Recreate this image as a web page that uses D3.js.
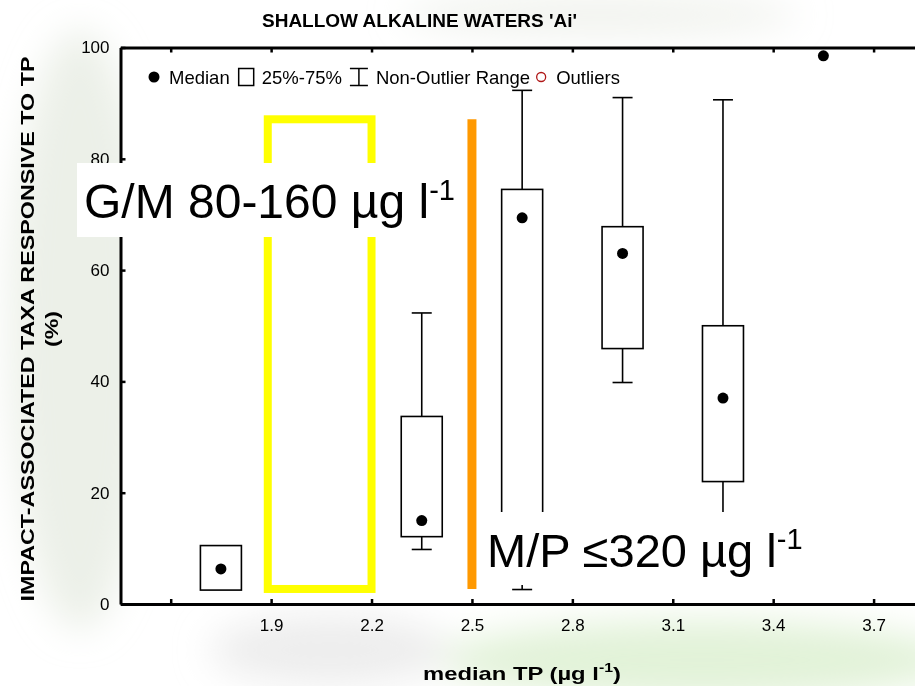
<!DOCTYPE html>
<html><head><meta charset="utf-8">
<script src="https://cdn.jsdelivr.net/npm/d3@7"></script>
<style>
body{margin:0;background:#fff;}
text{font-family:Arial,"Liberation Sans",sans-serif;fill:#000;}
</style>
</head><body>
<svg id="chart" width="915" height="686"></svg>
<script>
// ---- data ----
const categories = [1.75, 2.35, 2.65, 2.95, 3.25, 3.55];   // median TP (log, µg l-1)
const medians    = [6.3, 15.0, 69.4, 63.0, 37.0, 98.5];
const q1Values   = [2.5, 12.1, 8.0, 45.9, 22.0, 98.5];
const q3Values   = [10.5, 33.7, 74.5, 67.8, 50.0, 98.5];
const minValues  = [2.5, 9.8, 2.6, 39.8, 10.0, 98.5];
const maxValues  = [10.5, 52.3, 92.3, 91.0, 90.6, 98.5];
const xTickValues = [1.6, 1.9, 2.2, 2.5, 2.8, 3.1, 3.4, 3.7];
const xTickLabels = ["", "1.9", "2.2", "2.5", "2.8", "3.1", "3.4", "3.7"];
const yTickValues = [0, 20, 40, 60, 80, 100];
const gmBoundary  = [1.89, 2.2];   // G/M boundary band (x)
const mpBoundary  = [2.5];         // M/P boundary (x)
const boundaryExtent = [2.7, 87.1]; // y extent of boundary marks
const legendItems = ["Median", "25%-75%", "Non-Outlier Range", "Outliers"];

const svg = d3.select("#chart");
const W = 915, H = 686;

// faint watermark-like background
const defs = svg.append("defs");
const f = defs.append("filter").attr("id","blur").attr("x","-50%").attr("y","-50%").attr("width","200%").attr("height","200%");
f.append("feGaussianBlur").attr("stdDeviation", 18);
const bg = svg.append("g").attr("filter","url(#blur)");
bg.append("ellipse").attr("cx",80).attr("cy",330).attr("rx",70).attr("ry",300).attr("fill","#dfe6d8").attr("opacity",0.6);
bg.append("ellipse").attr("cx",700).attr("cy",660).attr("rx",260).attr("ry",40).attr("fill","#d6ecc8").attr("opacity",0.7);
bg.append("ellipse").attr("cx",330).attr("cy",650).attr("rx",120).attr("ry",35).attr("fill","#e6e6e6").attr("opacity",0.7);
bg.append("ellipse").attr("cx",600).attr("cy",15).attr("rx",200).attr("ry",18).attr("fill","#e4e8e0").attr("opacity",0.6);

// scales
const x = d3.scaleLinear().domain([1.45, 3.85]).range([120.5, 923.8]);
const y = d3.scaleLinear().domain([0, 100]).range([604, 47.5]);

// plot area
svg.append("rect").attr("x", x(1.45)).attr("y", y(100)).attr("width", W - x(1.45)).attr("height", y(0) - y(100)).attr("fill", "#fff");

// axes
const xAxis = d3.axisBottom(x).tickValues(xTickValues)
  .tickFormat((d, i) => xTickLabels[i]).tickSizeInner(-5).tickSizeOuter(0).tickPadding(15);
const gx = svg.append("g").attr("transform", `translate(0,${y(0)})`).call(xAxis);
gx.select(".domain").attr("stroke-width", 3);
gx.selectAll(".tick line").attr("stroke-width", 2.5);
gx.selectAll("text").attr("font-size", 17).attr("font-family", "Arial, 'Liberation Sans', sans-serif");

const xTop = d3.axisTop(x).tickValues(xTickValues).tickFormat("").tickSizeInner(-5).tickSizeOuter(0);
const gxt = svg.append("g").attr("transform", `translate(0,${y(100)})`).call(xTop);
gxt.select(".domain").attr("stroke-width", 3);
gxt.selectAll(".tick line").attr("stroke-width", 2.5);

const yAxis = d3.axisLeft(y).tickValues(yTickValues).tickSizeInner(-5).tickSizeOuter(0).tickPadding(11);
const gy = svg.append("g").attr("transform", `translate(${x(1.45)},0)`).call(yAxis);
gy.select(".domain").attr("stroke-width", 3);
gy.selectAll(".tick line").attr("stroke-width", 2.5);
gy.selectAll("text").attr("font-size", 17).attr("font-family", "Arial, 'Liberation Sans', sans-serif");

// boundary marks
svg.append("rect")
  .attr("x", x(gmBoundary[0])).attr("y", y(boundaryExtent[1]))
  .attr("width", x(gmBoundary[1]) - x(gmBoundary[0]))
  .attr("height", y(boundaryExtent[0]) - y(boundaryExtent[1]))
  .attr("fill", "none").attr("stroke", "#ffff00").attr("stroke-width", 8);
svg.selectAll(".mp").data(mpBoundary).join("line").attr("class","mp")
  .attr("x1", d => x(d)).attr("x2", d => x(d))
  .attr("y1", y(boundaryExtent[1])).attr("y2", y(boundaryExtent[0]))
  .attr("stroke", "#ff9900").attr("stroke-width", 9);

// box plots
const boxW = 41, capW = 20;
const data = categories.map((c, i) => ({c, med: medians[i], q1: q1Values[i], q3: q3Values[i], lo: minValues[i], hi: maxValues[i]}));
const g = svg.append("g").attr("stroke", "#000").attr("stroke-width", 1.6);
data.forEach(d => {
  const cx = x(d.c);
  if (d.q3 > d.q1) {
    if (d.hi > d.q3) {
      g.append("line").attr("x1", cx).attr("x2", cx).attr("y1", y(d.hi)).attr("y2", y(d.q3));
      g.append("line").attr("x1", cx - capW/2).attr("x2", cx + capW/2).attr("y1", y(d.hi)).attr("y2", y(d.hi));
    }
    if (d.lo < d.q1) {
      g.append("line").attr("x1", cx).attr("x2", cx).attr("y1", y(d.q1)).attr("y2", y(d.lo));
      g.append("line").attr("x1", cx - capW/2).attr("x2", cx + capW/2).attr("y1", y(d.lo)).attr("y2", y(d.lo));
    }
    g.append("rect").attr("x", cx - boxW/2).attr("y", y(d.q3)).attr("width", boxW).attr("height", y(d.q1) - y(d.q3)).attr("fill", "none");
  }
});
svg.selectAll(".med").data(data).join("circle").attr("class","med")
  .attr("cx", d => x(d.c)).attr("cy", d => y(d.med)).attr("r", 5.5).attr("fill", "#000");

// legend
const lg = svg.append("g").attr("font-size", 18.5);
let lx = 154; const ly = 77;
lg.append("circle").attr("cx", lx).attr("cy", ly).attr("r", 5.5).attr("fill", "#000");
lx += 15;
let t = lg.append("text").attr("x", lx).attr("y", ly + 6.5).text(legendItems[0]);
lx += t.node().getComputedTextLength() + 9;
lg.append("rect").attr("x", lx).attr("y", ly - 8.5).attr("width", 15).attr("height", 17).attr("fill", "none").attr("stroke", "#000").attr("stroke-width", 1.5);
lx += 15 + 8;
t = lg.append("text").attr("x", lx).attr("y", ly + 6.5).text(legendItems[1]);
lx += t.node().getComputedTextLength() + 8;
const ib = lg.append("g").attr("stroke", "#000").attr("stroke-width", 1.5);
ib.append("line").attr("x1", lx).attr("x2", lx + 18).attr("y1", ly - 8.5).attr("y2", ly - 8.5);
ib.append("line").attr("x1", lx).attr("x2", lx + 18).attr("y1", ly + 8.5).attr("y2", ly + 8.5);
ib.append("line").attr("x1", lx + 9).attr("x2", lx + 9).attr("y1", ly - 8.5).attr("y2", ly + 8.5);
lx += 18 + 8;
t = lg.append("text").attr("x", lx).attr("y", ly + 6.5).text(legendItems[2]);
lx += t.node().getComputedTextLength() + 11;
lg.append("circle").attr("cx", lx).attr("cy", ly).attr("r", 4.5).attr("fill", "none").attr("stroke", "#b01818").attr("stroke-width", 1.3);
lx += 15;
lg.append("text").attr("x", lx).attr("y", ly + 6.5).text(legendItems[3]);

// annotation labels with white backgrounds
svg.append("rect").attr("x", 77).attr("y", 163).attr("width", 389).attr("height", 74).attr("fill", "#fff");
const gm = svg.append("text").attr("x", 84).attr("y", 218).attr("font-size", 48);
gm.append("tspan").text("G/M 80-160 µg l");
gm.append("tspan").attr("font-size", 29).attr("dy", -18).text("-1");

svg.append("rect").attr("x", 479).attr("y", 512).attr("width", 336).attr("height", 73).attr("fill", "#fff");
const mp = svg.append("text").attr("x", 487).attr("y", 567).attr("font-size", 47);
mp.append("tspan").text("M/P ≤320 µg l");
mp.append("tspan").attr("font-size", 29).attr("dy", -18).text("-1");

// titles
svg.append("text").attr("x", 262).attr("y", 27).attr("font-size", 19).attr("font-weight", "bold")
  .attr("textLength", 315).attr("lengthAdjust", "spacingAndGlyphs")
  .text("SHALLOW  ALKALINE WATERS 'Ai'");

const yl = svg.append("g").attr("transform", "translate(0,329) rotate(-90)");
yl.append("text").attr("x", 0).attr("y", 34).attr("text-anchor", "middle").attr("font-size", 18).attr("font-weight", "bold")
  .attr("textLength", 545).attr("lengthAdjust", "spacingAndGlyphs")
  .text("IMPACT-ASSOCIATED TAXA RESPONSIVE TO TP");
yl.append("text").attr("x", 0).attr("y", 58).attr("text-anchor", "middle").attr("font-size", 18).attr("font-weight", "bold")
  .attr("textLength", 36).attr("lengthAdjust", "spacingAndGlyphs")
  .text("(%)");

const xt = svg.append("text").attr("x", 423).attr("y", 680).attr("font-size", 18).attr("font-weight", "bold");
xt.append("tspan").text("median TP (µg l");
xt.append("tspan").attr("font-size", 12).attr("dy", -8).text("-1");
xt.append("tspan").attr("dy", 8).text(")");
const xtw = xt.node().getComputedTextLength();
xt.attr("transform", `translate(423,0) scale(${198 / xtw},1) translate(-423,0)`);
</script>
</body></html>
